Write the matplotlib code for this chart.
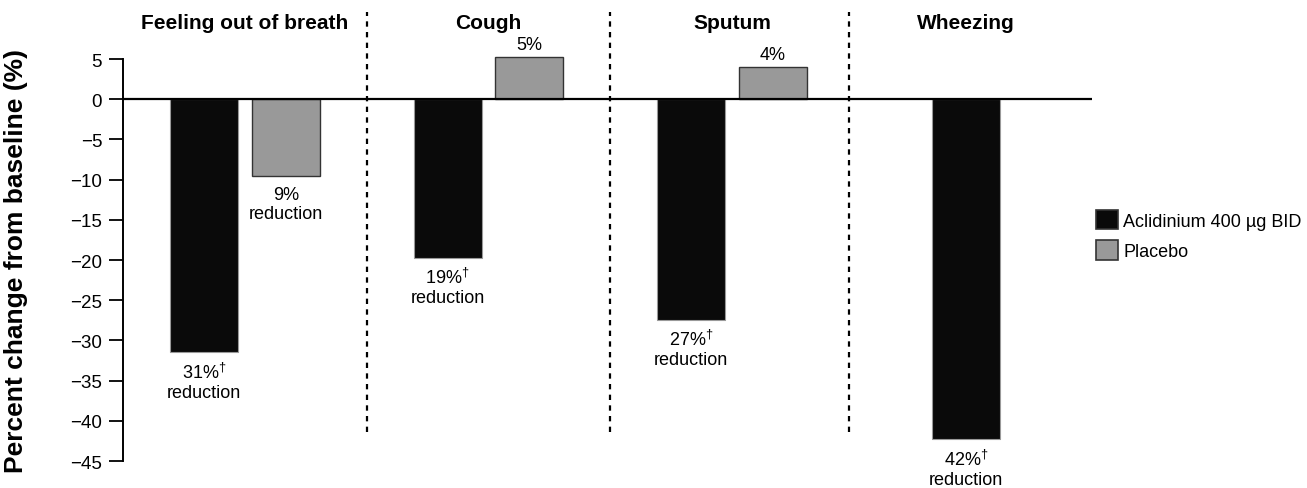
import numpy as np
import matplotlib
matplotlib.use("Agg")
import matplotlib.pyplot as plt
from matplotlib.patches import Patch

plt.rcParams['font.family'] = ['Liberation Sans', 'DejaVu Sans']
plt.rcParams['mathtext.fontset'] = 'custom'
plt.rcParams['mathtext.rm'] = 'Liberation Sans'
plt.rcParams['mathtext.it'] = 'Liberation Sans:italic'

# data
categories = ["Feeling out of breath", "Cough", "Sputum", "Wheezing"]
aclidinium = [-31.5, -19.7, -27.4, -42.3]
placebo = [-9.6, 5.2, 4.0, None]
aclidinium_labels = ["31%", "19%", "27%", "42%"]
placebo_labels = ["9%", "5%", "4%", None]
yticks = [5, 0, -5, -10, -15, -20, -25, -30, -35, -40, -45]

black = "#0a0a0a"
grey = "#999999"


def bar_label(ax, x, val, txt, dagger):
    s = txt + (r"$^{\dagger}$" if dagger else "")
    if val < 0:
        ax.annotate(s + "\nreduction", (x, val), xytext=(0, -7),
                    textcoords="offset points", ha="center", va="top",
                    fontsize=13, linespacing=1.15, annotation_clip=False)
    else:
        ax.annotate(s, (x, val), xytext=(0, 3), textcoords="offset points",
                    ha="center", va="bottom", fontsize=13,
                    annotation_clip=False)


fig = plt.figure(figsize=(13.07, 4.89), dpi=100)
ax = fig.add_axes([0.0941, 0.0552, 0.7414, 0.8221])

off = 0.168
w = 0.279
# group with a single bar sits slightly left in the original
centers = [i - (0.04 if placebo[i] is None else 0) for i in range(len(categories))]

for i, cat in enumerate(categories):
    c = centers[i]
    if placebo[i] is None:
        xa = c
    else:
        xa = c - off
        xp = c + off
        ax.bar(xp, placebo[i], width=w, color=grey, edgecolor="#333333",
               linewidth=1.0, zorder=2, clip_on=False)
        bar_label(ax, xp, placebo[i], placebo_labels[i], False)
    ax.bar(xa, aclidinium[i], width=w, color=black, edgecolor="#999999",
           linewidth=0.8, zorder=2, clip_on=False)
    bar_label(ax, xa, aclidinium[i], aclidinium_labels[i], True)
    ax.text(c, 1.092, cat, transform=ax.get_xaxis_transform(),
            ha="center", va="center", fontsize=15, fontweight="bold")

# dashed dividers between symptom groups
for a, b in zip(centers[:-1], centers[1:]):
    ax.axvline((a + b) / 2, ymin=0.072, ymax=1.117, color="black", lw=1.6,
               linestyle=(0, (2.4, 2.4)), clip_on=False, zorder=1)

ax.axhline(0, color="black", lw=1.6, zorder=3)

ax.set_xlim(-0.501, 3.478)
ax.set_ylim(-45, 5)
ax.set_yticks(yticks)
ax.set_xticks([])
for s in ["top", "right", "bottom"]:
    ax.spines[s].set_visible(False)
ax.spines["left"].set_linewidth(1.4)
ax.tick_params(axis="y", length=10, width=1.3, pad=5, labelsize=13.5)

ax.set_ylabel("Percent change from baseline (%)", fontsize=19, fontweight="bold")
ax.yaxis.set_label_coords(-0.098, 0.5)

handles = [Patch(facecolor=black, edgecolor="#333333", lw=1.2),
           Patch(facecolor=grey, edgecolor="#333333", lw=1.2)]
fig.legend(handles, ["Aclidinium 400 µg BID", "Placebo"], loc="upper left",
           bbox_to_anchor=(1096 / 1307, 1 - 211 / 489), frameon=False,
           fontsize=13, handlelength=1.2, handleheight=1.25,
           handletextpad=0.3, labelspacing=0.6, borderpad=0, borderaxespad=0)

fig.savefig("out.png", dpi=100)
